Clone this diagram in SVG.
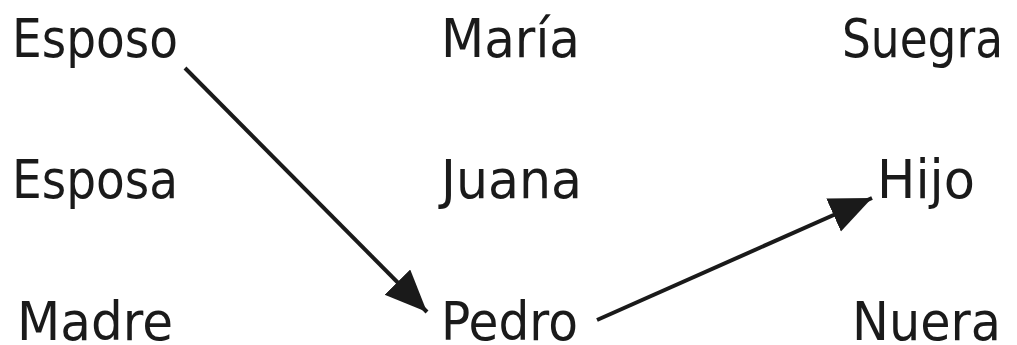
<svg xmlns="http://www.w3.org/2000/svg" width="1017" height="345" viewBox="0 0 1017 345">
<style>
text{font-family:"DejaVu Sans","Liberation Sans",sans-serif;font-size:54px;fill:#1a1a1a}
.c{stroke:#1a1a1a;stroke-width:4;fill:none}
</style>
<defs>
<marker id="ah" markerUnits="userSpaceOnUse" markerWidth="44" markerHeight="40" refX="42" refY="18" orient="auto">
<path d="M0,0 L42,18 L0,36 Z" fill="#1a1a1a"/>
</marker>
</defs>
<rect width="1017" height="345" fill="#fff"/>
<g id="esposo"><text x="12" y="57" textLength="166" lengthAdjust="spacingAndGlyphs">Esposo</text></g>
<g id="maria"><text x="441" y="57" textLength="139" lengthAdjust="spacingAndGlyphs">María</text></g>
<g id="suegra"><text x="842" y="57" textLength="161" lengthAdjust="spacingAndGlyphs">Suegra</text></g>
<g id="esposa"><text x="12" y="198" textLength="166" lengthAdjust="spacingAndGlyphs">Esposa</text></g>
<g id="juana"><text x="441" y="198" textLength="141" lengthAdjust="spacingAndGlyphs">Juana</text></g>
<g id="hijo"><text x="877" y="198" textLength="98" lengthAdjust="spacingAndGlyphs">Hijo</text></g>
<g id="madre"><text x="17" y="340" textLength="156" lengthAdjust="spacingAndGlyphs">Madre</text></g>
<g id="pedro"><text x="441" y="340" textLength="137" lengthAdjust="spacingAndGlyphs">Pedro</text></g>
<g id="nuera"><text x="852" y="340" textLength="149" lengthAdjust="spacingAndGlyphs">Nuera</text></g>
<g id="connectors">
<line class="c" x1="185" y1="68" x2="427" y2="312" marker-end="url(#ah)"/>
<line class="c" x1="597" y1="320" x2="872" y2="198" marker-end="url(#ah)"/>
</g>
</svg>
